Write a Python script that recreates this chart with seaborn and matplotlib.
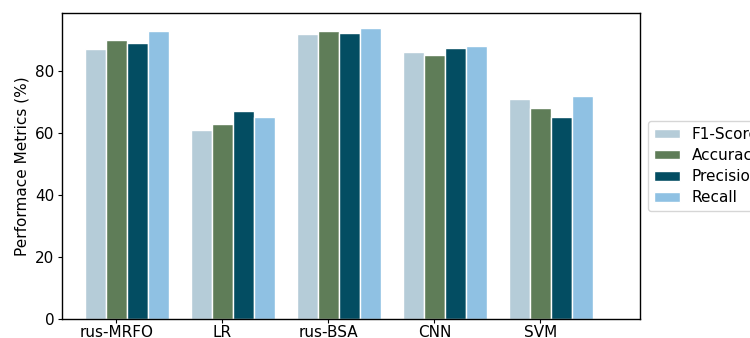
import matplotlib
matplotlib.use("Agg")
import matplotlib.pyplot as plt
import seaborn as sns
import pandas as pd

models = ["rus-MRFO", "LR", "rus-BSA", "CNN", "SVM"]
metrics = ["F1-Score", "Accuracy", "Precision", "Recall"]
f1_score = [87, 61, 92, 86, 71]
accuracy = [90, 63, 93, 85, 68]
precision = [89, 67, 92.3, 87.4, 65]
recall = [93, 65, 94, 88, 72]
colors = ["#b5ccd8", "#5f7d58", "#034d62", "#8fc1e3"]

rows = []
for name, vals in zip(metrics, [f1_score, accuracy, precision, recall]):
    for m, v in zip(models, vals):
        rows.append({"Model": m, "Metric": name, "Value": v})
df = pd.DataFrame(rows)

plt.rcParams["font.family"] = ["DejaVu Sans"]

fig = plt.figure(figsize=(7.5, 3.38), dpi=100)
ax = fig.add_axes([0.0827, 0.0562, 0.7706, 0.9053])

sns.barplot(data=df, x="Model", y="Value", hue="Metric", order=models,
            hue_order=metrics, palette=colors, width=0.8, gap=0,
            edgecolor="white", linewidth=1, saturation=1, ax=ax, errorbar=None)

ax.set_xticks([i - 0.1 for i in range(len(models))])
ax.set_xticklabels(models, fontsize=11)
ax.set_xlim(-0.614, 4.84)
ax.set_ylim(0, 98.7)
ax.set_yticks([0, 20, 40, 60, 80])
ax.tick_params(axis="both", labelsize=11, length=3, pad=2.5, colors="black")
ax.tick_params(axis="x", pad=1.5)
ax.set_xlabel("")
ax.set_ylabel("Performace Metrics (%)", fontsize=11)
for s in ax.spines.values():
    s.set_visible(True)
    s.set_color("black")
    s.set_linewidth(1)

ax.legend(loc="center left", bbox_to_anchor=(1.0, 0.5), fontsize=11,
          frameon=True, title=None, handlelength=1.7, handleheight=0.6,
          labelspacing=0.4)

fig.savefig("out.png", dpi=100)
